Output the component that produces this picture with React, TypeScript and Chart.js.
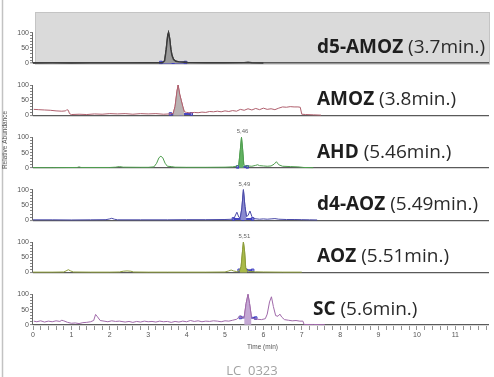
import React, { useEffect, useRef } from 'react';
import { Chart, registerables } from 'chart.js';

Chart.register(...registerables);

// ---------------- data ----------------
const compounds = ['d5-AMOZ', 'AMOZ', 'AHD', 'd4-AOZ', 'AOZ', 'SC'];
const retentionTexts = ['(3.7min.)', '(3.8min.)', '(5.46min.)', '(5.49min.)', '(5.51min.)', '(5.6min.)'];
const peakTags = ['', '', '5,46', '5,49', '5,51', ''];
const peakTagTimes = [3.53, 3.78, 5.43, 5.48, 5.48, 5.6];
const yTickLabels = ['0', '50', '100'];
const xTickLabels = ['0', '1', '2', '3', '4', '5', '6', '7', '8', '9', '10', '11'];
const xAxisTitle = 'Time (min)';
const yAxisTitle = 'Relative Abundance';
const footerCode = 'LC  0323';

const traceD5AMOZ: [number, number][] = [
  [0, 0.5], [0.5, 0.8], [1.0, 0.6], [1.5, 0.8], [2.0, 0.7], [2.5, 0.8], [3.0, 1], [3.3, 1],
  [3.38, 2], [3.43, 8], [3.47, 45], [3.51, 92], [3.53, 100], [3.56, 80], [3.59, 45], [3.62, 25],
  [3.66, 12], [3.72, 6], [3.8, 4], [3.95, 3], [4.05, 1.5], [4.5, 1], [5.0, 1], [5.5, 1.5],
  [5.6, 3], [5.7, 1], [6.0, 0.5],
];
const traceAMOZ: [number, number][] = [
  [0.02, 20], [0.15, 19], [0.3, 18], [0.45, 17], [0.6, 15], [0.75, 14], [0.85, 15], [0.88, 19],
  [0.92, 17], [0.95, 6], [1.0, 3], [1.2, 4], [1.4, 3], [1.6, 5], [1.8, 4], [2.0, 6], [2.2, 5],
  [2.4, 6], [2.6, 4], [2.8, 6], [3.0, 5], [3.2, 6], [3.4, 4], [3.55, 5], [3.65, 6], [3.7, 30],
  [3.75, 80], [3.78, 100], [3.82, 70], [3.86, 50], [3.9, 30], [3.94, 12], [4.0, 10], [4.1, 8],
  [4.2, 10], [4.3, 9], [4.4, 11], [4.5, 10], [4.6, 13], [4.7, 12], [4.8, 14], [4.9, 12],
  [5.0, 15], [5.1, 13], [5.2, 16], [5.3, 14], [5.4, 20], [5.5, 17], [5.6, 22], [5.7, 18],
  [5.8, 23], [5.9, 19], [6.0, 24], [6.1, 20], [6.2, 22], [6.3, 19], [6.4, 24], [6.5, 28],
  [6.6, 27], [6.7, 29], [6.8, 28], [6.9, 28], [6.96, 27], [7.0, 4], [7.1, 3], [7.3, 2], [7.5, 1],
];
const traceAHD: [number, number][] = [
  [0, 0.5], [0.5, 0.5], [1.15, 1], [1.2, 3], [1.25, 1], [2.0, 1], [2.15, 2], [2.25, 4],
  [2.35, 2], [2.8, 1.5], [3.0, 1.5], [3.15, 3], [3.22, 15], [3.28, 33], [3.33, 38], [3.38, 33],
  [3.44, 15], [3.5, 5], [3.6, 4], [3.7, 2], [4.0, 1.5], [4.5, 1.5], [5.0, 2], [5.2, 3],
  [5.3, 5], [5.36, 10], [5.4, 60], [5.43, 100], [5.46, 60], [5.49, 10], [5.55, 5], [5.6, 6],
  [5.7, 5], [5.8, 8], [5.85, 10], [5.9, 7], [6.0, 6], [6.1, 5], [6.2, 6], [6.28, 12],
  [6.34, 20], [6.4, 10], [6.5, 5], [6.7, 4], [6.9, 3], [7.05, 1], [7.3, 0.5],
];
const traceD4AOZ: [number, number][] = [
  [0, 1], [0.5, 1], [1.0, 0.5], [1.5, 1], [1.9, 1.5], [2.0, 4], [2.05, 6], [2.12, 3], [2.2, 1],
  [2.8, 1], [3.5, 1], [4.0, 1.5], [4.5, 1.5], [5.0, 2], [5.2, 3], [5.25, 10], [5.31, 26],
  [5.36, 10], [5.4, 8], [5.44, 40], [5.48, 100], [5.52, 45], [5.56, 12], [5.6, 15], [5.65, 30],
  [5.7, 12], [5.75, 5], [5.9, 3], [6.0, 4], [6.1, 3], [6.2, 4], [6.3, 5], [6.4, 3], [6.6, 2],
  [6.8, 2], [7.0, 1.5], [7.2, 1], [7.4, 0.5],
];
const traceAOZ: [number, number][] = [
  [0, 1], [0.5, 1], [0.8, 1.5], [0.86, 5], [0.92, 9], [0.98, 5], [1.05, 1.5], [1.5, 1],
  [2.0, 1], [2.25, 1.5], [2.35, 4], [2.45, 5], [2.55, 4], [2.62, 1.5], [3.0, 1], [3.5, 1],
  [4.0, 1], [4.5, 1], [5.0, 1.5], [5.1, 5], [5.16, 8], [5.22, 5], [5.3, 3], [5.38, 5],
  [5.42, 20], [5.46, 75], [5.48, 100], [5.51, 70], [5.54, 15], [5.58, 5], [5.65, 3], [5.8, 2],
  [6.0, 1.5], [6.5, 1], [7.0, 1],
];
const traceSC: [number, number][] = [
  [0.02, 12], [0.1, 10], [0.2, 13], [0.3, 9], [0.4, 12], [0.5, 10], [0.6, 13], [0.7, 11],
  [0.75, 15], [0.8, 13], [0.9, 8], [1.0, 5], [1.1, 6], [1.2, 4], [1.3, 7], [1.4, 8], [1.5, 10],
  [1.58, 14], [1.63, 34], [1.68, 26], [1.75, 14], [1.85, 12], [1.95, 10], [2.05, 13], [2.15, 11],
  [2.25, 12], [2.4, 9], [2.5, 11], [2.6, 8], [2.7, 11], [2.8, 9], [2.9, 12], [3.0, 10],
  [3.1, 11], [3.2, 9], [3.3, 12], [3.4, 10], [3.5, 11], [3.6, 8], [3.7, 11], [3.8, 9],
  [3.9, 12], [4.0, 10], [4.1, 14], [4.2, 11], [4.3, 13], [4.4, 10], [4.5, 12], [4.6, 11],
  [4.7, 13], [4.8, 12], [4.9, 10], [5.0, 13], [5.1, 12], [5.2, 15], [5.3, 18], [5.36, 25],
  [5.4, 30], [5.44, 22], [5.5, 25], [5.55, 70], [5.6, 100], [5.64, 70], [5.69, 25], [5.75, 20],
  [5.85, 18], [5.95, 17], [6.05, 20], [6.1, 35], [6.16, 75], [6.21, 92], [6.26, 60], [6.32, 30],
  [6.38, 28], [6.43, 35], [6.48, 25], [6.55, 17], [6.65, 15], [6.75, 13], [6.85, 14],
  [6.95, 12], [7.03, 12], [7.06, 1], [7.3, 1], [7.6, 0.5],
];

const peakWindows: [number, number][] = [
  [3.38, 4.05], [3.65, 3.94], [5.36, 5.49], [5.4, 5.56], [5.38, 5.58], [5.5, 5.69],
];

const integrationD5AMOZ: [number, number][] = [[3.33, 2], [3.65, 3], [3.97, 2]];
const integrationAMOZ: [number, number][] = [[3.58, 5], [3.85, 5], [4.12, 5]];
const integrationAHD: [number, number][] = [[5.33, 3], [5.58, 3]];
const integrationD4AOZ: [number, number][] = [[5.22, 4], [5.47, 4], [5.72, 4]];
const integrationAOZ: [number, number][] = [[5.37, 7], [5.55, 7], [5.72, 7]];
const integrationSC: [number, number][] = [[5.4, 24], [5.6, 24], [5.8, 22]];

const traces = [traceD5AMOZ, traceAMOZ, traceAHD, traceD4AOZ, traceAOZ, traceSC];
const integrations = [integrationD5AMOZ, integrationAMOZ, integrationAHD, integrationD4AOZ, integrationAOZ, integrationSC];

// ---------------- styles ----------------
const lineColors = ['#3a3a3a', '#b0606e', '#4f9e4f', '#4a4aa8', '#8c9c3a', '#a06aaa'];
const fillColors = ['#9c9c9c', '#b9b2b2', '#62b262', '#8a8ad0', '#a9ba48', '#c4a8d4'];
const lineWidths = [1.4, 1, 1, 1, 1, 1];
const labelX = [317, 317, 317, 317, 317, 313];

const X_MAX = 11.876;
const Y_MIN = -4;
const Y_MAX = 168;
const AXIS_FONT = '"Liberation Sans", Arial, sans-serif';

const toXY = (arr: [number, number][]) => arr.map(([x, y]) => ({ x, y }));

const decorPlugin = {
  id: 'decor',
  beforeDraw(chart: any) {
    const ctx = chart.ctx;
    const s = chart.scales.y0;
    const { left, right } = chart.chartArea;
    const top = s.top;
    const bottom = s.getPixelForValue(0) + 1;
    ctx.save();
    ctx.fillStyle = '#dadada';
    ctx.fillRect(left + 2, top, right - left - 2, bottom - top);
    ctx.strokeStyle = '#c4c4c4';
    ctx.lineWidth = 1;
    ctx.strokeRect(left + 2.5, top + 0.5, right - left - 2, bottom - top - 0.5);
    ctx.restore();
  },
  afterDraw(chart: any) {
    const ctx = chart.ctx;
    const { left, right } = chart.chartArea;
    ctx.save();
    // left frame line
    ctx.strokeStyle = '#c2c2c2';
    ctx.lineWidth = 1.5;
    ctx.beginPath();
    ctx.moveTo(2.5, 0);
    ctx.lineTo(2.5, chart.height);
    ctx.stroke();

    compounds.forEach((name, i) => {
      const s = chart.scales['y' + i];
      const p0 = s.getPixelForValue(0);
      const p100 = s.getPixelForValue(100);
      // axis line 0..100
      ctx.strokeStyle = '#666';
      ctx.lineWidth = 1;
      ctx.beginPath();
      ctx.moveTo(left - 0.5, p0);
      ctx.lineTo(left - 0.5, p100);
      ctx.stroke();

      // label
      const base = p0 - 10;
      ctx.textBaseline = 'alphabetic';
      ctx.textAlign = 'left';
      ctx.fillStyle = '#1e1e1e';
      ctx.font = 'bold 19px "Open Sans", "Noto Sans", sans-serif';
      ctx.fillText(name, labelX[i], base);
      const w = ctx.measureText(name).width;
      ctx.fillStyle = '#2a2a2a';
      ctx.font = '19px "Open Sans", "Noto Sans", sans-serif';
      ctx.fillText(' ' + retentionTexts[i], labelX[i] + w, base);

      // peak tag
      if (peakTags[i]) {
        ctx.font = '6px ' + AXIS_FONT;
        ctx.fillStyle = '#666';
        ctx.textAlign = 'center';
        ctx.textBaseline = 'alphabetic';
        const px = chart.scales.x.getPixelForValue(peakTagTimes[i]);
        ctx.fillText(peakTags[i], px + 1, p100 - 4);
      }
    });

    // x axis title
    ctx.font = '6.5px ' + AXIS_FONT;
    ctx.fillStyle = '#555';
    ctx.textAlign = 'center';
    ctx.textBaseline = 'middle';
    ctx.fillText(xAxisTitle, (left + right) / 2 + 1.5, 347);

    // y axis title
    ctx.save();
    ctx.translate(5.5, 140);
    ctx.rotate(-Math.PI / 2);
    ctx.font = '6.5px ' + AXIS_FONT;
    ctx.fillStyle = '#555';
    ctx.textAlign = 'center';
    ctx.textBaseline = 'middle';
    ctx.fillText(yAxisTitle, 0, 0);
    ctx.restore();

    // footer
    ctx.font = '13px "Open Sans", "Noto Sans", sans-serif';
    ctx.fillStyle = '#a2a2a2';
    ctx.textAlign = 'center';
    ctx.textBaseline = 'alphabetic';
    ctx.fillText(footerCode, 252, 375);
    ctx.restore();
  },
};

export default function App() {
  const ref = useRef<HTMLCanvasElement | null>(null);

  useEffect(() => {
    document.body.style.margin = '0';
    const canvas = ref.current;
    if (!canvas) return;

    const datasets: any[] = [];
    traces.forEach((tr, i) => {
      const [a, b] = peakWindows[i];
      datasets.push({
        label: compounds[i] + ' peak',
        data: toXY(tr.filter(([t]) => t >= a && t <= b)),
        yAxisID: 'y' + i,
        xAxisID: 'x',
        borderColor: lineColors[i],
        borderWidth: lineWidths[i],
        backgroundColor: fillColors[i],
        fill: 'origin',
        pointRadius: 0,
        tension: 0,
      });
      datasets.push({
        label: compounds[i],
        data: toXY(tr),
        yAxisID: 'y' + i,
        xAxisID: 'x',
        borderColor: lineColors[i],
        borderWidth: lineWidths[i],
        fill: false,
        pointRadius: 0,
        tension: 0,
      });
      datasets.push({
        label: compounds[i] + ' integration',
        data: toXY(integrations[i]),
        yAxisID: 'y' + i,
        xAxisID: 'x',
        borderColor: '#4545c4',
        borderWidth: 2,
        fill: false,
        pointStyle: 'rect',
        pointRadius: 1.8,
        pointBackgroundColor: 'rgba(120,120,230,0.35)',
        pointBorderColor: '#3c3cc0',
        pointBorderWidth: 1,
        tension: 0,
      });
    });

    const scales: any = {
      x: {
        type: 'linear',
        position: 'bottom',
        min: 0,
        max: X_MAX,
        border: { display: false },
        grid: { drawOnChartArea: false, tickLength: 4, tickColor: '#777', tickWidth: 0.8 },
        ticks: {
          stepSize: 0.2,
          autoSkip: false,
          maxRotation: 0,
          includeBounds: false,
          padding: 1,
          color: '#555',
          font: { size: 7, family: AXIS_FONT },
          callback: (v: number) => {
            const r = Math.round(v);
            return Math.abs(v - r) < 1e-6 && xTickLabels[r] !== undefined ? xTickLabels[r] : '';
          },
        },
        title: { display: false },
        afterFit: (s: any) => { s.height = 51; },
      },
    };
    compounds.forEach((_, i) => {
      scales['y' + i] = {
        type: 'linear',
        position: 'left',
        stack: 'panels',
        stackWeight: 1,
        weight: 6 - i,
        min: Y_MIN,
        max: Y_MAX,
        border: { display: false },
        grid: {
          drawOnChartArea: true,
          color: (c: any) => (c.tick && c.tick.value === 0 ? '#5a5a5a' : 'rgba(0,0,0,0)'),
          lineWidth: (c: any) => (c.tick && c.tick.value === 0 ? (i === 0 ? 1.6 : 1.2) : 1),
          tickColor: '#666',
          tickLength: 3,
          tickWidth: 0.8,
        },
        ticks: {
          stepSize: 10,
          autoSkip: false,
          includeBounds: false,
          padding: 1,
          color: '#555',
          font: { size: 7, family: AXIS_FONT },
          callback: (v: number) => (v % 50 === 0 ? yTickLabels[Math.round(v / 50)] : ''),
        },
        afterBuildTicks: (s: any) => {
          s.ticks = s.ticks.filter((t: any) => t.value >= 0 && t.value <= 100);
        },
        afterFit: (s: any) => { s.width = 33; },
      };
    });

    const chart = new Chart(canvas, {
      type: 'line',
      data: { datasets },
      options: {
        animation: false,
        responsive: true,
        maintainAspectRatio: false,
        layout: { padding: { top: 12, left: 0, right: 0, bottom: 0 } },
        plugins: { legend: { display: false }, tooltip: { enabled: false } },
        scales,
      },
      plugins: [decorPlugin],
    } as any);

    return () => chart.destroy();
  }, []);

  return (
    <div style={{ position: 'relative', width: 494, height: 377, background: '#fff' }}>
      <canvas ref={ref} />
    </div>
  );
}
